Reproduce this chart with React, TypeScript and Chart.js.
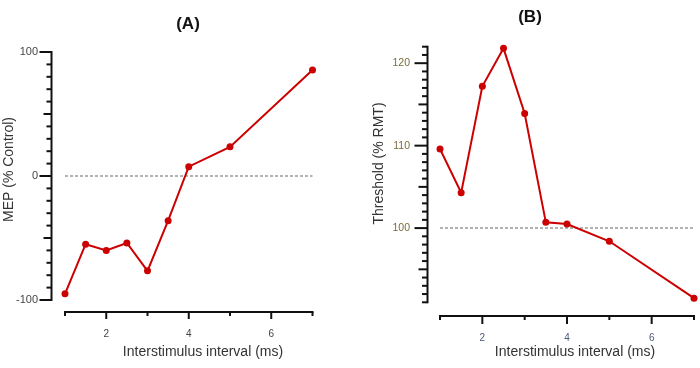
import React, { useEffect, useRef } from 'react';
import { Chart, registerables } from 'chart.js';

Chart.register(...registerables);

// ---- data ----
const isiA = [1, 1.5, 2, 2.5, 3, 3.5, 4, 5, 7];
const mepA = [-95, -55, -60, -54, -76.5, -36, 7.5, 23.5, 85.5];
const isiB = [1, 1.5, 2, 2.5, 3, 3.5, 4, 5, 7];
const thresholdB = [109.6, 104.3, 117.2, 121.8, 113.9, 100.7, 100.5, 98.4, 91.5];
const xTicks = [1, 2, 3, 4, 5, 6, 7];
const xTickLabels = [2, 4, 6];
const yTicksA = [-100, 0, 100];
const yTicksB = [100, 110, 120];
const baselineA = 0;
const baselineB = 100;

const FONT = '"Liberation Sans", Arial, sans-serif';

const decoPlugin = {
  id: 'deco',
  beforeDatasetsDraw(chart: any, _args: any, o: any) {
    const { ctx, chartArea } = chart;
    const x = chart.scales.x;
    const y = chart.scales.y;
    ctx.save();
    ctx.strokeStyle = '#111';
    ctx.lineWidth = 2;
    ctx.lineCap = 'butt';
    // y axis
    const ax = chartArea.left - o.yGap;
    const yTop = y.getPixelForValue(o.yMax);
    const yBot = y.getPixelForValue(o.yMin);
    ctx.beginPath();
    ctx.moveTo(ax, yBot + 1);
    ctx.lineTo(ax, yTop - 1);
    ctx.stroke();
    for (let v = o.yMin; v <= o.yMax + 1e-9; v += o.yMinorStep) {
      const r = Math.round(v * 1000) / 1000;
      let len = o.yMinorLen;
      if (Math.abs(r % o.yMajorStep) < 1e-6) len = o.yMajorLen;
      else if (Math.abs(r % o.yMedStep) < 1e-6) len = o.yMedLen;
      const py = y.getPixelForValue(r);
      ctx.beginPath();
      ctx.moveTo(ax, py);
      ctx.lineTo(ax - len, py);
      ctx.stroke();
    }
    // x axis
    const ay = chartArea.bottom + o.xGap;
    const x0 = x.getPixelForValue(xTicks[0]);
    const x1 = x.getPixelForValue(xTicks[xTicks.length - 1]);
    ctx.beginPath();
    ctx.moveTo(x0 - 1, ay);
    ctx.lineTo(x1 + 1, ay);
    ctx.stroke();
    xTicks.forEach((v) => {
      const px = x.getPixelForValue(v);
      const len = xTickLabels.includes(v) ? o.xMajorLen : o.xMinorLen;
      ctx.beginPath();
      ctx.moveTo(px, ay);
      ctx.lineTo(px, ay + len);
      ctx.stroke();
    });
    ctx.restore();
  },
  afterDraw(chart: any, _args: any, o: any) {
    const { ctx } = chart;
    ctx.save();
    ctx.textAlign = 'center';
    ctx.textBaseline = 'middle';
    ctx.fillStyle = '#111';
    ctx.font = 'bold 17px ' + FONT;
    ctx.fillText(o.title, o.titleX, o.titleY);
    ctx.fillStyle = '#333';
    ctx.font = '14px ' + FONT;
    ctx.fillText('Interstimulus interval (ms)', o.xTitleX, o.xTitleY);
    ctx.translate(o.yTitleX, o.yTitleY);
    ctx.rotate(-Math.PI / 2);
    ctx.fillText(o.yTitle, 0, 0);
    ctx.restore();
  },
};

function makeConfig(p: any) {
  return {
    type: 'line',
    data: {
      datasets: [
        {
          data: p.xs.map((v: number, i: number) => ({ x: v, y: p.ys[i] })),
          borderColor: '#cc0000',
          backgroundColor: '#cc0000',
          borderWidth: 2,
          pointRadius: 3.5,
          pointBorderWidth: 0,
          tension: 0,
          clip: false,
        },
        {
          data: [
            { x: xTicks[0], y: p.base },
            { x: xTicks[xTicks.length - 1], y: p.base },
          ],
          borderColor: '#999',
          borderWidth: 1.5,
          borderDash: [3, 2],
          pointRadius: 0,
          clip: false,
        },
      ],
    },
    options: {
      responsive: false,
      animation: false,
      devicePixelRatio: 1,
      layout: { padding: { left: 0, right: p.R, top: p.T, bottom: 0 } },
      plugins: {
        legend: { display: false },
        tooltip: { enabled: false },
        deco: p.deco,
      },
      scales: {
        x: {
          type: 'linear',
          min: xTicks[0],
          max: xTicks[xTicks.length - 1],
          afterFit: (s: any) => {
            s.height = 368 - p.B;
            s.paddingLeft = 0;
            s.paddingRight = 0;
          },
          afterBuildTicks: (s: any) => { s.ticks = xTicks.map((v) => ({ value: v })); },
          grid: { display: false, drawTicks: false },
          border: { display: false },
          ticks: {
            autoSkip: false,
            maxRotation: 0,
            padding: p.xPad,
            color: p.xColor,
            font: { family: FONT, size: 10 },
            callback: (v: number) => (xTickLabels.includes(v) ? String(v) : ''),
          },
        },
        y: {
          type: 'linear',
          min: p.deco.yMin,
          max: p.deco.yMax,
          afterFit: (s: any) => {
            s.width = p.L;
            s.paddingTop = 0;
            s.paddingBottom = 0;
          },
          afterBuildTicks: (s: any) => { s.ticks = p.yTicks.map((v: number) => ({ value: v })); },
          grid: { display: false, drawTicks: false },
          border: { display: false },
          ticks: {
            padding: p.yPad,
            color: p.yColor,
            font: { family: FONT, size: p.ySize },
          },
        },
      },
    },
    plugins: [decoPlugin],
  } as any;
}

const panelA = {
  xs: isiA, ys: mepA, base: baselineA, yTicks: yTicksA,
  L: 65, R: 37.5, T: 52, B: 300, xPad: 28, yPad: 27,
  xColor: '#444', yColor: '#444', ySize: 11,
  deco: {
    yMin: -100, yMax: 100, yMinorStep: 10, yMedStep: 50, yMajorStep: 100,
    yMinorLen: 5, yMedLen: 8, yMajorLen: 12, yGap: 13.5, xGap: 12,
    xMajorLen: 7, xMinorLen: 4,
    title: '(A)', titleX: 188, titleY: 24,
    xTitleX: 203, xTitleY: 352,
    yTitle: 'MEP (% Control)', yTitleX: 9, yTitleY: 169.5,
  },
};

const panelB = {
  xs: isiB, ys: thresholdB, base: baselineB, yTicks: yTicksB,
  L: 90, R: 6, T: 46.7, B: 302.3, xPad: 30, yPad: 30,
  xColor: '#4b5a78', yColor: '#7d6b3c', ySize: 10.5,
  deco: {
    yMin: 91, yMax: 122, yMinorStep: 1, yMedStep: 5, yMajorStep: 10,
    yMinorLen: 5.5, yMedLen: 9, yMajorLen: 13, yGap: 12.5, xGap: 13.7,
    xMajorLen: 8, xMinorLen: 4,
    title: '(B)', titleX: 180, titleY: 17,
    xTitleX: 225, xTitleY: 352,
    yTitle: 'Threshold (% RMT)', yTitleX: 29, yTitleY: 163.5,
  },
};

function Panel({ left, panel }: { left: number; panel: any }) {
  const ref = useRef<HTMLCanvasElement>(null);
  useEffect(() => {
    const chart = new Chart(ref.current as HTMLCanvasElement, makeConfig(panel));
    return () => chart.destroy();
  }, [panel]);
  return (
    <canvas
      ref={ref}
      width={350}
      height={368}
      style={{ position: 'absolute', left, top: 0, width: 350, height: 368 }}
    />
  );
}

export default function App() {
  return (
    <div style={{ position: 'absolute', left: 0, top: 0, width: 700, height: 368, background: '#fff' }}>
      <Panel left={0} panel={panelA} />
      <Panel left={350} panel={panelB} />
    </div>
  );
}
